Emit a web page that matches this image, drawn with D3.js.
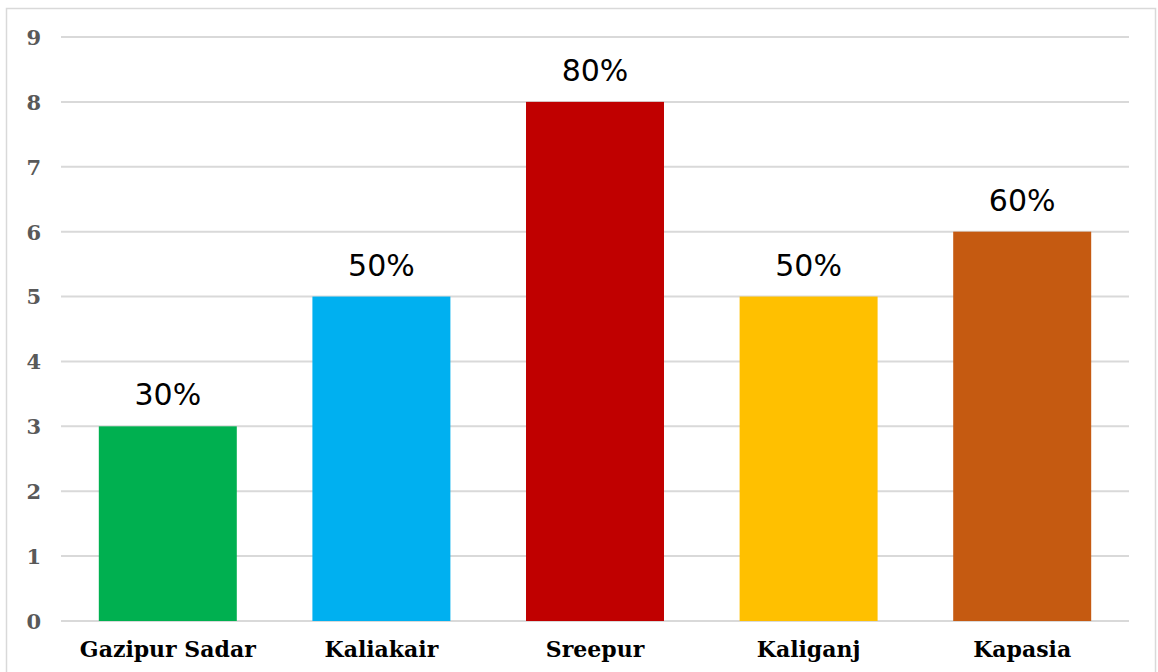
<!DOCTYPE html>
<html><head><meta charset="utf-8">
<script src="https://cdn.jsdelivr.net/npm/d3@7"></script>
<style>body{margin:0;background:#fff}</style>
</head><body>
<script>
const categories = ["Gazipur Sadar","Kaliakair","Sreepur","Kaliganj","Kapasia"];
const values = [3,5,8,5,6];
const labels = ["30%","50%","80%","50%","60%"];
const colors = ["#00B050","#00B0F0","#C00000","#FFC000","#C55A11"];
const yTicks = [0,1,2,3,4,5,6,7,8,9];

const W=1158,H=672;
const svg=d3.select("body").append("svg").attr("width",W).attr("height",H);
svg.append("rect").attr("x",6.5).attr("y",8.5).attr("width",1149).attr("height",670)
  .attr("fill","#fff").attr("stroke","#d9d9d9").attr("stroke-width",1.5);

const x=d3.scaleBand().domain(categories).range([61,1129]).paddingInner(0.354).paddingOuter(0.177);
const y=d3.scaleLinear().domain([0,9]).range([621,37]);

svg.append("g").selectAll("line").data(yTicks).join("line")
  .attr("x1",61).attr("x2",1129).attr("y1",d=>y(d)).attr("y2",d=>y(d))
  .attr("stroke","#d9d9d9").attr("stroke-width",2);

const yAxis=svg.append("g").attr("transform","translate(41,0)")
  .call(d3.axisLeft(y).tickValues(yTicks).tickSize(0).tickPadding(0));
yAxis.select(".domain").remove();
yAxis.selectAll("text").attr("font-family","DejaVu Serif").attr("font-weight","bold")
  .attr("font-size",21).attr("fill","#595959").attr("dy","0.35em");

svg.append("g").selectAll("rect").data(values).join("rect")
  .attr("x",(d,i)=>x(categories[i])).attr("width",x.bandwidth())
  .attr("y",d=>y(d)).attr("height",d=>y(0)-y(d)).attr("fill",(d,i)=>colors[i]);

svg.append("g").selectAll("text").data(values).join("text")
  .attr("x",(d,i)=>x(categories[i])+x.bandwidth()/2).attr("y",d=>y(d)-21)
  .attr("text-anchor","middle").attr("font-family","DejaVu Sans").attr("font-size",30)
  .attr("fill","#000").text((d,i)=>labels[i]);

const xAxis=svg.append("g").attr("transform","translate(0,621)")
  .call(d3.axisBottom(x).tickSize(0).tickPadding(20));
xAxis.select(".domain").remove();
xAxis.selectAll("text").attr("font-family","DejaVu Serif").attr("font-weight","bold")
  .attr("font-size",22).attr("fill","#000");
</script>
</body></html>
